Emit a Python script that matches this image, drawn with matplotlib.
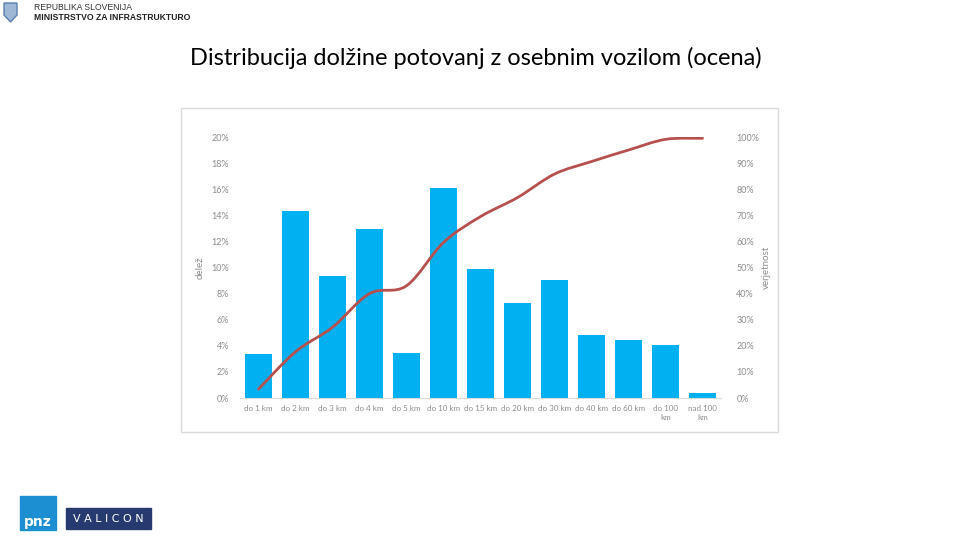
import numpy as np
import matplotlib.pyplot as plt
from matplotlib.path import Path
from matplotlib.patches import PathPatch, Rectangle, Polygon

plt.rcParams['font.family'] = ['Lato', 'DejaVu Sans']

# Data
categories = ['do 1 km', 'do 2 km', 'do 3 km', 'do 4 km', 'do 5 km', 'do 10 km',
              'do 15 km', 'do 20 km', 'do 30 km', 'do 40 km', 'do 60 km',
              'do 100\nkm', 'nad 100\nkm']
share = [3.4, 14.3, 9.35, 12.95, 3.45, 16.1, 9.9, 7.3, 9.05, 4.85, 4.45, 4.05, 0.4]  # delež, %
cumulative = [3.4, 17.7, 27.1, 40.0, 43.0, 59.6, 69.5, 76.8, 85.8, 90.6, 95.0, 99.1, 99.5]  # verjetnost, %

left_ticks = list(range(0, 21, 2))
right_ticks = list(range(0, 101, 10))

bar_color = '#00B0F0'
line_color = '#B5504E'
label_color = '#8C8C8C'

fig = plt.figure(figsize=(9.6, 5.4), dpi=100)

# chart frame
fig.patches.append(Rectangle((181 / 960, 1 - 432 / 540), 597 / 960, 324 / 540,
                             transform=fig.transFigure, fill=False,
                             edgecolor='#D9D9D9', linewidth=1))

ax = fig.add_axes([240 / 960, 1 - 398 / 540, 481 / 960, 261 / 540])
x = np.arange(len(categories))
ax.bar(x, share, width=0.73, color=bar_color, zorder=2)
ax.set_xlim(-0.5, len(categories) - 0.5)
ax.set_ylim(0, 20)
ax.set_yticks(left_ticks)
ax.set_yticklabels([f'{t}%' for t in left_ticks])
ax.set_xticks(x)
ax.set_xticklabels(categories, linespacing=1.3)
ax.tick_params(axis='both', length=0, labelsize=6.5, colors=label_color)
ax.tick_params(axis='x', labelsize=5.8, pad=5)
ax.tick_params(axis='y', pad=8)
for s in ['top', 'left', 'right']:
    ax.spines[s].set_visible(False)
ax.spines['bottom'].set_color('#D9D9D9')
ax.set_ylabel('delež', fontsize=7, color=label_color)
ax.yaxis.set_label_coords(-0.073, 0.5)

ax2 = ax.twinx()
ax2.set_ylim(0, 100)
ax2.set_yticks(right_ticks)
ax2.set_yticklabels([f'{t}%' for t in right_ticks])
ax2.tick_params(axis='y', length=0, labelsize=6.5, colors=label_color, pad=11)
for s in ax2.spines.values():
    s.set_visible(False)
ax2.set_ylabel('verjetnost', fontsize=7, color=label_color, rotation=90)
ax2.yaxis.set_label_coords(1.085, 0.5)

# smoothed line (Excel-style), drawn as Bezier segments through the data points
pts = np.column_stack([x, cumulative]).astype(float)
ext = np.vstack([pts[0], pts, pts[-1]])
verts = [tuple(pts[0])]
codes = [Path.MOVETO]
for i in range(1, len(ext) - 2):
    p0, p1, p2, p3 = ext[i - 1], ext[i], ext[i + 1], ext[i + 2]
    c1 = p1 + (p2 - p0) / 6
    c2 = p2 - (p3 - p1) / 6
    verts += [tuple(c1), tuple(c2), tuple(p2)]
    codes += [Path.CURVE4] * 3
ax2.add_patch(PathPatch(Path(verts, codes), fill=False, edgecolor=line_color,
                        linewidth=2, zorder=3, capstyle='round'))

# title
fig.text(0.496, 1 - 58 / 540, 'Distribucija dolžine potovanj z osebnim vozilom (ocena)',
         ha='center', va='center', fontsize=17, color='black')

# header
shield = Polygon([(4, 3), (17, 3), (17, 15), (10.5, 22), (4, 15)], closed=True,
                 transform=fig.transFigure, facecolor='#9DB7D5', edgecolor='#5A7FB0')
shield.set_xy([(px / 960, 1 - py / 540) for px, py in shield.get_xy()])
fig.patches.append(shield)
fig.text(34 / 960, 1 - 7 / 540, 'REPUBLIKA SLOVENIJA', fontsize=6.2, color='#333333',
         va='center', ha='left', family='Liberation Sans')
fig.text(34 / 960, 1 - 17 / 540, 'MINISTRSTVO ZA INFRASTRUKTURO', fontsize=6.2, color='#222222',
         va='center', ha='left', fontweight='bold', family='Liberation Sans')

# footer logos
fig.patches.append(Rectangle((20 / 960, 1 - 530 / 540), 36 / 960, 34 / 540,
                             transform=fig.transFigure, color='#1B8FD2'))
fig.text(38 / 960, 1 - 522 / 540, 'pnz', fontsize=10, fontweight='bold', color='white',
         ha='center', va='center', family='DejaVu Sans')
fig.patches.append(Rectangle((66 / 960, 1 - 529 / 540), 85 / 960, 21 / 540,
                             transform=fig.transFigure, color='#263A70'))
fig.text(108.5 / 960, 1 - 518.5 / 540, 'V A L I C O N', fontsize=8, color='white',
         ha='center', va='center', family='DejaVu Sans')

fig.savefig('out.png', dpi=100)
